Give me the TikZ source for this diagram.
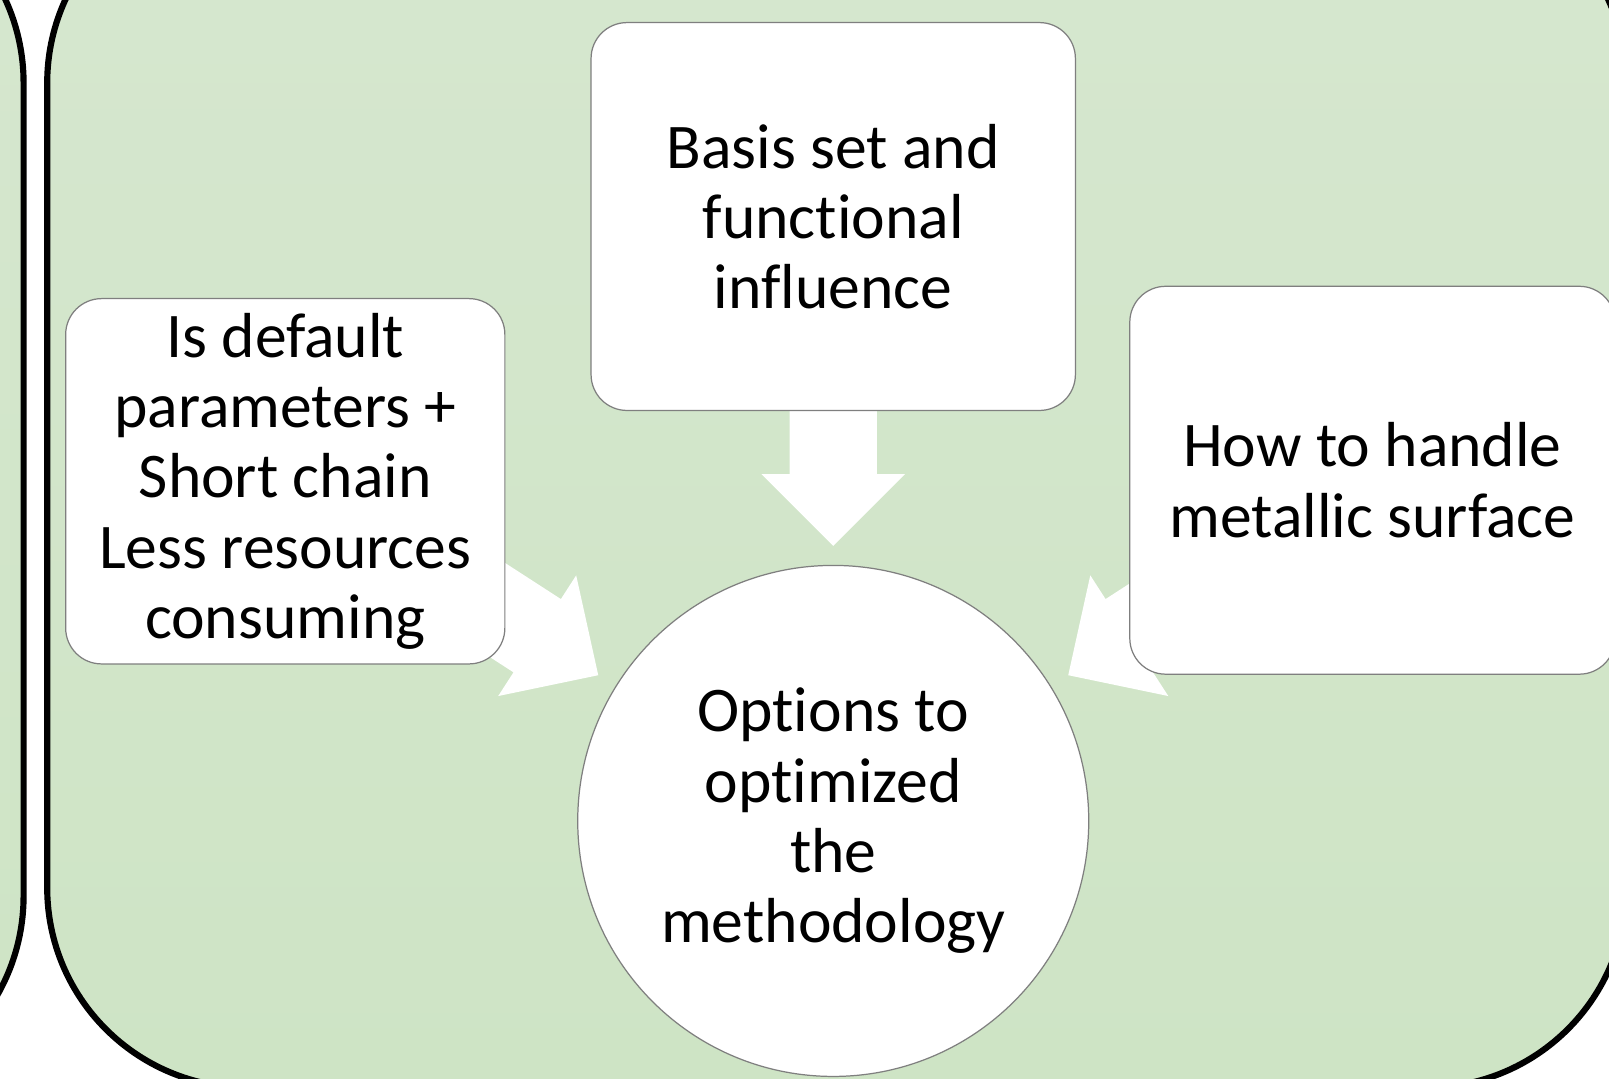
\documentclass[tikz,border=0pt]{standalone}
\usepackage{fontspec}
\setmainfont{Carlito}[Ligatures=NoCommon]
\definecolor{boxgray}{HTML}{7F7F7F}
\definecolor{gtop}{HTML}{D6E7CF}
\definecolor{gbot}{HTML}{CEE4C5}
\newcommand\dgfont{\fontsize{62}{68.5}\selectfont}
\begin{document}
\begin{tikzpicture}[x=1pt,y=-1pt,
  panel/.style={draw=black, line width=6pt, top color=gtop, bottom color=gbot, rounded corners=195pt},
  box/.style={draw=boxgray, line width=1.2pt, fill=white, rounded corners=35pt, align=center, font=\dgfont, inner sep=0pt},
  bubble/.style={draw=boxgray, line width=1.2pt, fill=white, circle, align=center, font=\dgfont, inner sep=0pt, minimum size=498pt},
  blockarrow/.style={fill=white, draw=none}]
\useasboundingbox (0,0) rectangle (1568,1051.5);
\fill[white] (0,0) rectangle (1568,1051.5);
% panels
\draw[panel] (-800,-114) rectangle (23,1068);
\draw[panel] (46,-114) rectangle (1585,1060);
% block arrows (behind boxes)
\fill[blockarrow] (769.5,300) -- (854.5,300) -- (854.5,462) -- (882,462) -- (812,532) -- (742,462) -- (769.5,462) -- cycle;
\fill[blockarrow] (378.7,475.2) -- (546.6,583.8) -- (561.5,560.7) -- (583,658) -- (485.5,678.3) -- (500.4,655.2) -- (332.5,546.6) -- cycle;
\fill[blockarrow] (1245.3,475.2) -- (1077.4,583.8) -- (1062.5,560.7) -- (1041,658) -- (1138.5,678.3) -- (1123.6,655.2) -- (1291.5,546.6) -- cycle;
% boxes
\node[box, minimum width=428pt, minimum height=356pt] (left) at (278,469) {Is default\\parameters +\\Short chain\\Less resources\\consuming};
\node[box, minimum width=472pt, minimum height=378pt] (top) at (812,211) {Basis set and\\functional\\influence};
\node[box, minimum width=473pt, minimum height=378pt] (right) at (1337.5,468) {How to handle\\metallic surface};
\node[bubble] (center) at (812,800) {Options to\\optimized\\the\\methodology};
\end{tikzpicture}
\end{document}
